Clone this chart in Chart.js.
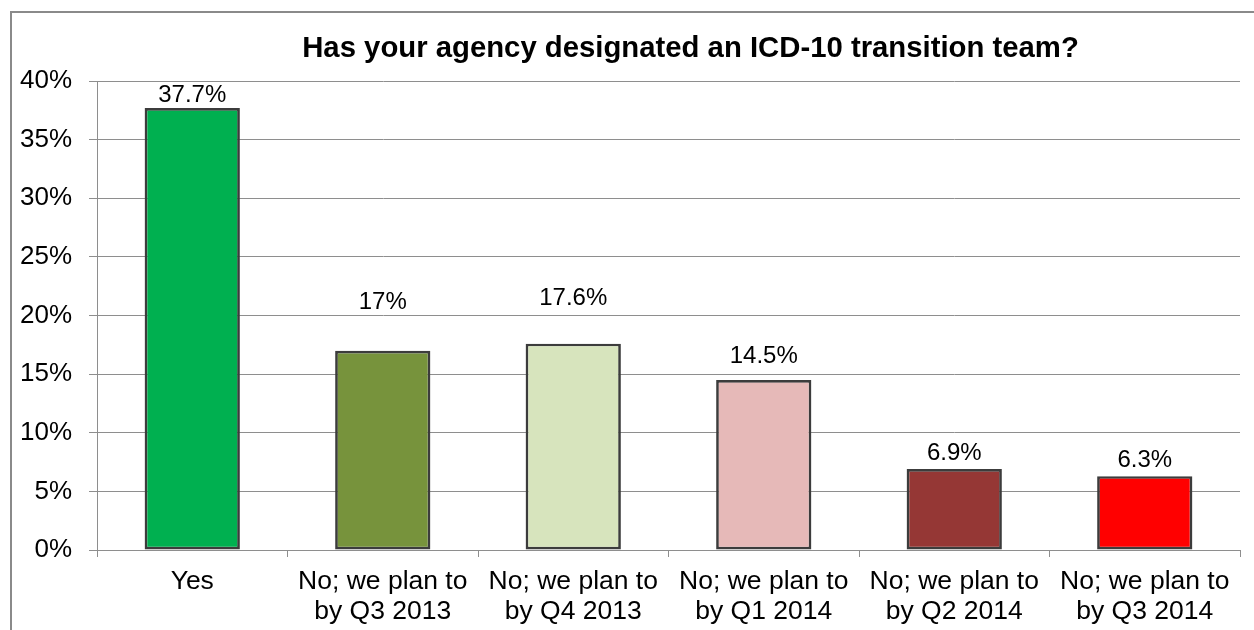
<!DOCTYPE html>
<html>
<head>
<meta charset="utf-8">
<script src="https://cdn.jsdelivr.net/npm/chart.js@4/dist/chart.umd.min.js"></script>
<style>
    html, body { margin: 0; padding: 0; background: #fff; }
    #wrap { position: relative; width: 1254px; height: 630px; overflow: hidden; }
    #frame { position: absolute; left: 10px; top: 11px; width: 1300px; height: 700px;
             border-left: 2px solid #8a8a8a; border-top: 2px solid #8a8a8a; box-sizing: border-box; }
    #chart1 { position: absolute; left: 0; top: 0; }
</style>
</head>
<body>
<div id="wrap">
    <div id="frame"></div>
    <canvas id="chart1" width="1254" height="630"></canvas>
</div>
<script>
var chartTitle = 'Has your agency designated an ICD-10 transition team?';
var categories = [
    ['Yes'],
    ['No; we plan to', 'by Q3 2013'],
    ['No; we plan to', 'by Q4 2013'],
    ['No; we plan to', 'by Q1 2014'],
    ['No; we plan to', 'by Q2 2014'],
    ['No; we plan to', 'by Q3 2014']
];
var percentages = [37.7, 17, 17.6, 14.5, 6.9, 6.3];
var yTicks = [0, 5, 10, 15, 20, 25, 30, 35, 40];

var barColors = ['#00B050', '#77933C', '#D7E4BD', '#E6B9B8', '#953735', '#FF0000'];
var gridGray = '#8e8e8e';
var fontFamily = '"Liberation Sans", Arial, sans-serif';

// labels were nudged by hand in the original, so keep their offsets here
var barLabels = {
    id: 'barLabels',
    afterDatasetsDraw: function (chart, args, opts) {
        var ctx = chart.ctx;
        var meta = chart.getDatasetMeta(0);
        ctx.save();
        ctx.font = '24px ' + fontFamily;
        ctx.fillStyle = '#000';
        ctx.textAlign = 'center';
        ctx.textBaseline = 'middle';
        meta.data.forEach(function (bar, i) {
            ctx.fillText(percentages[i] + '%', bar.x, bar.y + opts.offsets[i]);
        });
        ctx.restore();
    }
};

var topTitle = {
    id: 'topTitle',
    afterDraw: function (chart, args, opts) {
        var ctx = chart.ctx;
        var area = chart.chartArea;
        ctx.save();
        ctx.font = 'bold 29.3px ' + fontFamily;
        ctx.fillStyle = '#000';
        ctx.textAlign = 'center';
        ctx.textBaseline = 'middle';
        ctx.fillText(chartTitle, (area.left + area.right) / 2 + opts.shift, opts.y);
        ctx.restore();
    }
};

var ctx1 = document.getElementById('chart1').getContext('2d');
var chart1 = new Chart(ctx1, {
    type: 'bar',
    data: {
        labels: categories,
        datasets: [{
            data: percentages,
            backgroundColor: barColors,
            borderColor: '#3c3c3c',
            borderWidth: 2.7,
            borderSkipped: false,
            barPercentage: 0.5,
            categoryPercentage: 1.0
        }]
    },
    options: {
        responsive: false,
        animation: false,
        layout: {
            padding: { left: 0, right: 14, top: 81, bottom: 0 }
        },
        plugins: {
            legend: { display: false },
            title: { display: false },
            tooltip: { enabled: false },
            barLabels: { offsets: [-13, -48, -45, -24, -16, -16] },
            topTitle: { shift: 22, y: 49 }
        },
        scales: {
            x: {
                afterFit: function (scale) { scale.height = 80; },
                grid: {
                    display: true,
                    drawOnChartArea: false,
                    offset: true,
                    color: gridGray,
                    tickLength: 7
                },
                border: { display: true, color: gridGray, width: 1 },
                ticks: {
                    color: '#000',
                    font: { family: fontFamily, size: 26.5, lineHeight: 1.13 },
                    padding: 10,
                    maxRotation: 0,
                    autoSkip: false
                }
            },
            y: {
                min: yTicks[0],
                max: yTicks[yTicks.length - 1],
                afterFit: function (scale) { scale.width = 97; },
                afterBuildTicks: function (scale) {
                    scale.ticks = yTicks.map(function (v) { return { value: v }; });
                },
                grid: {
                    color: gridGray,
                    tickLength: 8
                },
                border: { display: true, color: gridGray, width: 1 },
                ticks: {
                    color: '#000',
                    font: { family: fontFamily, size: 26 },
                    padding: 17,
                    callback: function (v) { return v + '%'; }
                }
            }
        }
    },
    plugins: [barLabels, topTitle]
});
</script>
</body>
</html>
